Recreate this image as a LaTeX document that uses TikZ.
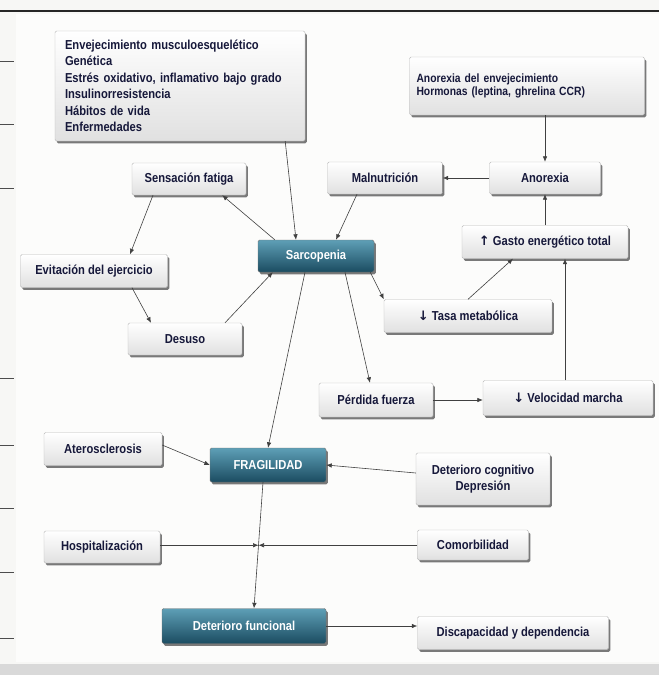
\documentclass[tikz,border=0pt]{standalone}
\usepackage{fontspec}
\setmainfont{Liberation Sans}[FakeStretch=0.86]
\newfontfamily\flechas{DejaVu Sans}
\usetikzlibrary{shadows,arrows.meta,calc}

\definecolor{tealclaro}{HTML}{5E9FB6}
\definecolor{tealoscuro}{HTML}{1B4C61}
\definecolor{tinta}{HTML}{16183A}
\definecolor{hoja}{HTML}{F7F7F5}

\newcommand{\sube}{{\flechas\bfseries ↑}}
\newcommand{\baja}{{\flechas\bfseries ↓}}

\tikzset{
  caja/.style={draw=gray!55, line width=0.4pt, rounded corners=1.5pt,
    top color=white, bottom color=gray!24,
    drop shadow={shadow xshift=1.8pt, shadow yshift=-2.4pt, fill=black!65, opacity=0.8},
    font=\fontsize{13}{15}\selectfont\bfseries, text=tinta, align=center, inner sep=2pt},
  clave/.style={caja, draw=black!55, top color=tealclaro, bottom color=tealoscuro, text=white},
  flecha/.style={-{Latex[length=5.5pt,width=4.5pt]}, line width=0.6pt, draw=black!75},
}

\begin{document}
\begin{tikzpicture}[x=1pt,y=-1pt]
    % Draw the paper and the panel
    \fill[gray!30] (0,0) rectangle (659,675);
    \fill[hoja] (0,0) rectangle (659,664);
    \fill[white!60!hoja] (16,14) rectangle (659,662);
    \useasboundingbox (0,0) rectangle (659,675);
    \draw[line width=1.8pt, black!85] (0,11) -- (659,11);
    \foreach \y in {61,124,188,378,445,508,572,638} {
        \draw[line width=1pt, black!70] (0,\y) -- (14,\y);
    }

    % Draw the top boxes
    \node[caja, align=left, text width=230pt, inner xsep=10pt, minimum height=110pt,
          font=\fontsize{13}{16.5}\selectfont\bfseries] (factores) at (180,86)
        {Envejecimiento musculoesquelético\\Genética\\Estrés oxidativo, inflamativo bajo grado\\Insulinorresistencia\\Hábitos de vida\\Enfermedades};
    \node[caja, align=left, text width=221pt, inner xsep=7pt, minimum height=58pt,
          font=\fontsize{12}{13.5}\selectfont\bfseries] (anoenv) at (527,86)
        {Anorexia del envejecimiento\\Hormonas (leptina, ghrelina CCR)};

    \node[caja, minimum width=114pt, minimum height=32pt] (fatiga) at (189,179) {Sensación fatiga};
    \node[caja, minimum width=115pt, minimum height=32pt] (malnut) at (385,178) {Malnutrición};
    \node[caja, minimum width=111pt, minimum height=32pt] (anorexia) at (545,178) {Anorexia};

    % Draw the middle boxes
    \node[clave, minimum width=116pt, minimum height=32pt] (sarco) at (316,256) {Sarcopenia};
    \node[caja, minimum width=166pt, minimum height=33pt] (gasto) at (545,242) {\sube\ Gasto energético total};
    \node[caja, minimum width=147pt, minimum height=33pt] (evit) at (94,271) {Evitación del ejercicio};
    \node[caja, minimum width=168pt, minimum height=33pt] (tasa) at (468,316) {\baja\ Tasa metabólica};
    \node[caja, minimum width=114pt, minimum height=32pt] (desuso) at (185,339) {Desuso};
    \node[caja, minimum width=114pt, minimum height=34pt] (perdida) at (376,400) {Pérdida fuerza};
    \node[caja, minimum width=170pt, minimum height=35pt] (veloc) at (568,398) {\baja\ Velocidad marcha};

    % Draw the lower boxes
    \node[caja, minimum width=118pt, minimum height=33pt] (atero) at (103,449) {Aterosclerosis};
    \node[clave, minimum width=116pt, minimum height=34pt] (frag) at (268,465) {FRAGILIDAD};
    \node[caja, minimum width=134pt, minimum height=52pt,
          font=\fontsize{13}{16}\selectfont\bfseries] (cogn) at (483,479) {Deterioro cognitivo\\Depresión};
    \node[caja, minimum width=116pt, minimum height=32pt] (hosp) at (102,547) {Hospitalización};
    \node[caja, minimum width=111pt, minimum height=30pt] (comorb) at (473,545) {Comorbilidad};
    \node[clave, minimum width=164pt, minimum height=35pt] (detfun) at (244,626) {Deterioro funcional};
    \node[caja, minimum width=191pt, minimum height=33pt] (discap) at (513,633) {Discapacidad y dependencia};

    % Draw the arrows around Sarcopenia
    \draw[flecha] ([xshift=-20pt]factores.south east) -- ([xshift=-20pt]sarco.north);
    \draw[flecha] ([xshift=17pt]sarco.north west) -- ([xshift=-24pt]fatiga.south east);
    \draw[flecha] ([xshift=-28pt]malnut.south) -- ([xshift=20pt]sarco.north);
    \draw[flecha] (anorexia.west) -- (malnut.east);
    \draw[flecha] (anoenv.south -| anorexia.north) -- (anorexia.north);
    \draw[flecha] (gasto.north) -- (anorexia.south);
    \draw[flecha] ([xshift=-36pt]fatiga.south) -- ([xshift=36pt]evit.north);
    \draw[flecha] ([xshift=38pt]evit.south) -- ([xshift=-34pt]desuso.north);
    \draw[flecha] ([xshift=40pt]desuso.north) -- ([xshift=15pt]sarco.south west);
    \draw[flecha] ([xshift=-4pt]sarco.south east) -- (tasa.north west);
    \draw[flecha] (tasa.north) -- ([xshift=-32pt]gasto.south);
    \draw[flecha] ([xshift=29pt]sarco.south) -- ([xshift=-6pt]perdida.north);
    \draw[flecha] (perdida.east) -- (perdida.east -| veloc.west);
    \draw[flecha] ([xshift=-3pt]veloc.north) -- ([xshift=-3pt]veloc.north |- gasto.south);

    % Draw the arrows around FRAGILIDAD
    \draw[flecha] ([xshift=-11pt]sarco.south) -- (frag.north);
    \draw[flecha] ([yshift=4pt]atero.east) -- (frag.west);
    \draw[flecha] ([yshift=6pt]cogn.west) -- (frag.east);
    \draw[flecha] ([xshift=-5pt]frag.south) -- ([xshift=10pt]detfun.north);
    \coordinate (cruce) at ($([xshift=-5pt]frag.south)!0.5!([xshift=10pt]detfun.north)$);
    \draw[flecha] (hosp.east |- cruce) -- (cruce);
    \draw[flecha] (comorb.west |- cruce) -- (cruce);
    \draw[flecha] (detfun.east) -- (detfun.east -| discap.west);
\end{tikzpicture}
\end{document}
